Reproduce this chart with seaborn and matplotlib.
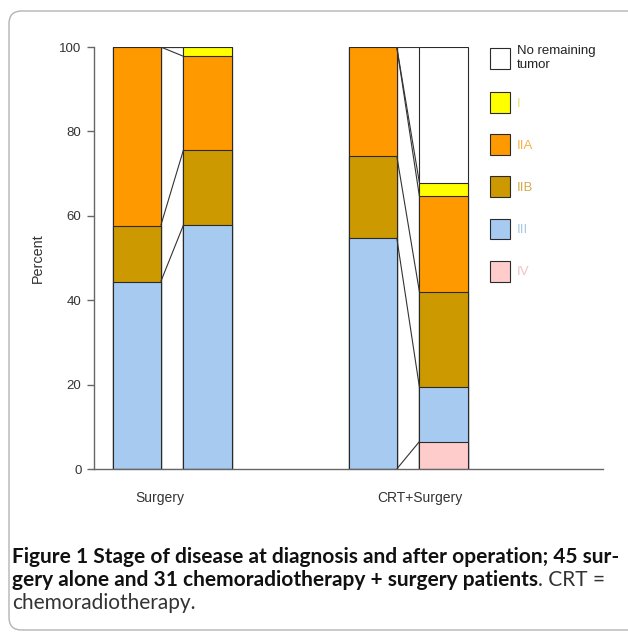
import numpy as np
import pandas as pd
import matplotlib
matplotlib.use("Agg")
import matplotlib.pyplot as plt
import matplotlib.transforms as mtransforms
from matplotlib.patches import Patch, FancyBboxPatch
import seaborn as sns

# ---------------- data (percent of patients in each stage) ----------------
groups = ["Surgery", "CRT+Surgery"]
phases = ["At diagnosis", "After operation"]
stages = ["IV", "III", "IIB", "IIA", "I", "No remaining\ntumor"]  # bottom -> top

surgery_diag = [0.0, 44.4, 13.3, 42.3, 0.0, 0.0]
surgery_post = [0.0, 57.8, 17.8, 22.2, 2.2, 0.0]
crt_diag = [0.0, 54.8, 19.4, 25.8, 0.0, 0.0]
crt_post = [6.5, 12.9, 22.6, 22.6, 3.2, 32.2]

yticks = [0, 20, 40, 60, 80, 100]

bar_colors = ["#ffcccc", "#a6caf0", "#cc9900", "#ff9900", "#ffff00", "#ffffff"]
legend_text_colors = ["#f0c4c4", "#a9c8e6", "#d2aa50", "#f5b24c", "#e2e26a", "#222222"]

# ---------------- build table ----------------
rows = []
for g, (pre, post) in zip(groups, [(surgery_diag, surgery_post), (crt_diag, crt_post)]):
    for ph, vals in zip(phases, [pre, post]):
        cum = np.cumsum(vals)
        for s, v, c in zip(stages, vals, cum):
            rows.append(dict(group=g, phase=ph, stage=s, value=v, cum=c))
df = pd.DataFrame(rows)

sns.set_style("white")
plt.rcParams["font.family"] = ["Liberation Sans", "DejaVu Sans"]

W, H = 628, 633
fig = plt.figure(figsize=(W / 100, H / 100), dpi=100)
ax = fig.add_axes([94 / W, 1 - 469 / H, (603 - 94) / W, (469 - 47) / H])

WIDTH, GAP = 0.6, 0.32
edge = "#2a2a2a"
# draw cumulative bars from the top series down so lower segments overlay
for s, col in reversed(list(zip(stages, bar_colors))):
    sub = df[df["stage"] == s]
    sns.barplot(data=sub, x="group", y="cum", hue="phase", order=groups,
                hue_order=phases, palette=[col, col], width=WIDTH, gap=GAP,
                saturation=1, edgecolor=edge, linewidth=0.8, errorbar=None,
                legend=False, ax=ax, zorder=2)

# series lines between bars
slot = WIDTH / 2
half_bar = slot * (1 - GAP) / 2
for i, g in enumerate(groups):
    x0 = i - slot / 2 + half_bar
    x1 = i + slot / 2 - half_bar
    pre = df[(df.group == g) & (df.phase == phases[0])]["cum"].values
    post = df[(df.group == g) & (df.phase == phases[1])]["cum"].values
    for a, b in zip(pre, post):
        ax.plot([x0, x1], [a, b], color="#333333", lw=0.8, zorder=3, solid_capstyle="butt")

ax.set_xlim(-0.331, 1.826)
ax.set_ylim(0, 100)
ax.set_yticks(yticks)
ax.set_yticklabels([str(t) for t in yticks])
ax.set_xlabel("")
ax.set_ylabel("Percent", fontsize=10.4, color="#333333", labelpad=10)
for sp in ["top", "right"]:
    ax.spines[sp].set_visible(False)
for sp in ["left", "bottom"]:
    ax.spines[sp].set_color("#666666")
    ax.spines[sp].set_linewidth(1)
ax.tick_params(axis="y", length=5, width=1, color="#666666", pad=4,
               labelsize=9.5, labelcolor="#333333", left=True)
ax.tick_params(axis="x", length=0, pad=16, labelsize=10, labelcolor="#333333")
# category labels sit slightly off the group centres in the original
for lab, dx in zip(ax.get_xticklabels(), [-12, 12]):
    lab.set_transform(lab.get_transform() +
                      mtransforms.ScaledTranslation(dx / 100, 0, fig.dpi_scale_trans))

# legend
handles = [Patch(facecolor=c, edgecolor=edge, linewidth=0.8) for c in bar_colors][::-1]
labels = stages[::-1]
leg = ax.legend(handles, labels, loc="upper left", bbox_to_anchor=(0.778, 1.004),
                frameon=False, fontsize=9.5, handlelength=1.5, handleheight=2.07,
                handletextpad=0.55, labelspacing=1.6, borderpad=0, borderaxespad=0)
for t, c in zip(leg.get_texts(), legend_text_colors[::-1]):
    t.set_color(c)

# outer rounded frame
frame = FancyBboxPatch((9 / W, 3 / H), (660 - 9) / W, (H - 11 - 3) / H,
                       boxstyle="round,pad=0,rounding_size=0.02",
                       transform=fig.transFigure, facecolor="none",
                       edgecolor="#b4b4b4", linewidth=1, clip_on=False)
fig.patches.append(frame)

# caption
cap_font = ["Lato", "DejaVu Sans"]
line1 = "Figure 1 Stage of disease at diagnosis and after operation; 45 sur-"
line2b = "gery alone and 31 chemoradiotherapy + surgery patients"
line2r = ". CRT ="
line3 = "chemoradiotherapy."
renderer = fig.canvas.get_renderer()

def twidth(s, size, weight):
    t = fig.text(0, 0, s, fontsize=size, fontweight=weight, family=cap_font)
    w = t.get_window_extent(renderer).width
    t.remove()
    return w

size = 12 * 602 / twidth(line1, 12, "bold")
x0 = 12 / W
fig.text(x0, 1 - 563 / H, line1, fontsize=size, fontweight="bold", family=cap_font,
         color="#111111", va="baseline")
fig.text(x0, 1 - 586 / H, line2b, fontsize=size, fontweight="bold", family=cap_font,
         color="#111111", va="baseline")
w2 = twidth(line2b, size, "bold")
fig.text(x0 + w2 / W, 1 - 586 / H, line2r, fontsize=size, fontweight="normal",
         family=cap_font, color="#333333", va="baseline")
fig.text(x0, 1 - 609 / H, line3, fontsize=size, fontweight="normal", family=cap_font,
         color="#333333", va="baseline")

fig.savefig("out.png", dpi=100)
